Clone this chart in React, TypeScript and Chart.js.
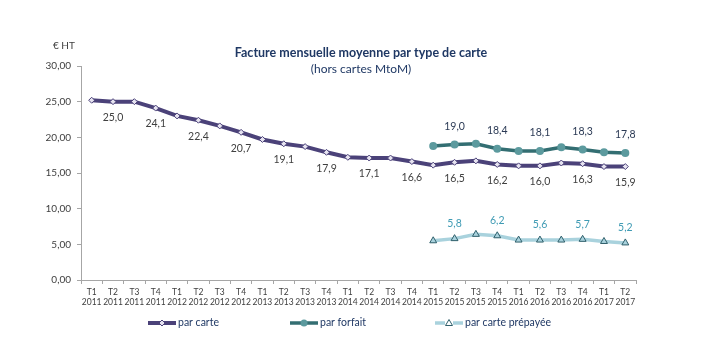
import React, { useEffect, useRef } from "react";
import { Chart, registerables } from "chart.js";

Chart.register(...registerables);

const quarters = ["T1", "T2", "T3", "T4", "T1", "T2", "T3", "T4", "T1", "T2", "T3", "T4", "T1", "T2", "T3", "T4", "T1", "T2", "T3", "T4", "T1", "T2", "T3", "T4", "T1", "T2"];
const years = ["2011", "2011", "2011", "2011", "2012", "2012", "2012", "2012", "2013", "2013", "2013", "2013", "2014", "2014", "2014", "2014", "2015", "2015", "2015", "2015", "2016", "2016", "2016", "2016", "2017", "2017"];

const parCarte = [25.2, 25.0, 25.0, 24.1, 23.0, 22.4, 21.6, 20.7, 19.7, 19.1, 18.7, 17.9, 17.2, 17.1, 17.1, 16.6, 16.1, 16.5, 16.7, 16.2, 16.0, 16.0, 16.4, 16.3, 15.9, 15.9];
const parForfait = [null, null, null, null, null, null, null, null, null, null, null, null, null, null, null, null, 18.8, 19.0, 19.1, 18.4, 18.1, 18.1, 18.6, 18.3, 17.9, 17.8];
const parPrepayee = [null, null, null, null, null, null, null, null, null, null, null, null, null, null, null, null, 5.5, 5.8, 6.4, 6.2, 5.6, 5.6, 5.6, 5.7, 5.4, 5.2];

const yTicks = [0, 5, 10, 15, 20, 25, 30];

const titleText = "Facture mensuelle moyenne par type de carte";
const subtitleText = "(hors cartes MtoM)";
const unitText = "€ HT";
const seriesNames = ["par carte", "par forfait", "par carte prépayée"];

const FONT = "Lato, 'Open Sans', sans-serif";

const fmt = (v: number) => v.toFixed(1).replace(".", ",");

const decorPlugin = {
  id: "decor",
  afterDatasetsDraw(chart: any) {
    const ctx = chart.ctx;
    ctx.save();
    // Data labels
    const labelCfg = [
      { ds: 0, dy: 16, color: "#404040" },
      { ds: 1, dy: -18, color: "#2B3A55" },
      { ds: 2, dy: -15, color: "#3F9BB4" },
    ];
    ctx.font = `10.5px ${FONT}`;
    ctx.textAlign = "center";
    ctx.textBaseline = "middle";
    labelCfg.forEach((c) => {
      const meta = chart.getDatasetMeta(c.ds);
      const data = chart.data.datasets[c.ds].data;
      meta.data.forEach((pt: any, i: number) => {
        const v = data[i];
        if (v == null || i % 2 !== 1) return;
        ctx.fillStyle = c.color;
        ctx.fillText(fmt(v), pt.x, pt.y + c.dy);
      });
    });

    // Title
    ctx.fillStyle = "#1F3864";
    ctx.font = `bold 12.5px ${FONT}`;
    ctx.fillText(titleText, 361, 53);
    ctx.font = `12px ${FONT}`;
    ctx.fillText(subtitleText, 361, 69);
    // Unit
    ctx.fillStyle = "#404040";
    ctx.font = `10px ${FONT}`;
    ctx.textAlign = "left";
    ctx.fillText(unitText, 53, 46);

    // Legend
    const items = [
      { x0: 148, color: "#4B4279", w: 4, marker: "diamond" },
      { x0: 290, color: "#336E72", w: 3.5, marker: "circle" },
      { x0: 435, color: "#A9D2DD", w: 3.5, marker: "triangle" },
    ];
    const ly = 323;
    items.forEach((it, k) => {
      ctx.strokeStyle = it.color;
      ctx.lineWidth = it.w;
      ctx.beginPath();
      ctx.moveTo(it.x0, ly);
      ctx.lineTo(it.x0 + 28, ly);
      ctx.stroke();
      const mx = it.x0 + 14;
      if (it.marker === "diamond") {
        ctx.fillStyle = "#E6E3F0";
        ctx.strokeStyle = "#4B4279";
        ctx.lineWidth = 1;
        ctx.beginPath();
        ctx.moveTo(mx, ly - 3);
        ctx.lineTo(mx + 3, ly);
        ctx.lineTo(mx, ly + 3);
        ctx.lineTo(mx - 3, ly);
        ctx.closePath();
        ctx.fill();
        ctx.stroke();
      } else if (it.marker === "circle") {
        ctx.fillStyle = "#5C9A9E";
        ctx.beginPath();
        ctx.arc(mx, ly, 3.5, 0, Math.PI * 2);
        ctx.fill();
      } else {
        ctx.fillStyle = "#FFFFFF";
        ctx.fillRect(mx - 4, ly - 4, 8, 8);
        ctx.strokeStyle = "#2F5F6B";
        ctx.lineWidth = 1;
        ctx.beginPath();
        ctx.moveTo(mx, ly - 3.5);
        ctx.lineTo(mx + 3.5, ly + 2.5);
        ctx.lineTo(mx - 3.5, ly + 2.5);
        ctx.closePath();
        ctx.stroke();
      }
      ctx.fillStyle = "#1F3864";
      ctx.font = `10.5px ${FONT}`;
      ctx.textAlign = "left";
      ctx.fillText(seriesNames[k], it.x0 + 30, ly);
    });
    ctx.restore();
  },
};

export default function App() {
  const ref = useRef<HTMLCanvasElement>(null);
  useEffect(() => {
    document.body.style.margin = "0";
    const labels = quarters.map((q, i) => [q, years[i]]);
    const chart = new Chart(ref.current!, {
      type: "line",
      data: {
        labels,
        datasets: [
          {
            label: seriesNames[0],
            data: parCarte,
            borderColor: "#4B4279",
            borderWidth: 4,
            pointStyle: "rectRot",
            pointRadius: 3,
            pointBackgroundColor: "#E6E3F0",
            pointBorderColor: "#4B4279",
            pointBorderWidth: 1,
            tension: 0,
          },
          {
            label: seriesNames[1],
            data: parForfait,
            borderColor: "#336E72",
            borderWidth: 3.5,
            pointStyle: "circle",
            pointRadius: 4,
            pointBackgroundColor: "#5C9A9E",
            pointBorderColor: "#5C9A9E",
            pointBorderWidth: 0,
            tension: 0,
          },
          {
            label: seriesNames[2],
            data: parPrepayee,
            borderColor: "#A9D2DD",
            borderWidth: 3.5,
            pointStyle: "triangle",
            pointRadius: 4,
            pointBackgroundColor: "#A9D2DD",
            pointBorderColor: "#2F5F6B",
            pointBorderWidth: 1,
            tension: 0,
          },
        ],
      },
      options: {
        animation: false,
        responsive: false,
        devicePixelRatio: 1,
        layout: { padding: { top: 66, left: 0, right: 82, bottom: 46 } },
        plugins: {
          legend: { display: false },
          tooltip: { enabled: false },
          title: { display: false },
        },
        scales: {
          x: {
            offset: true,
            grid: {
              display: true,
              drawOnChartArea: false,
              drawTicks: true,
              tickLength: 4,
              offset: true,
              color: "#A6A6A6",
            },
            border: { display: true, color: "#A6A6A6", width: 1 },
            ticks: {
              autoSkip: false,
              maxRotation: 0,
              minRotation: 0,
              color: "#404040",
              font: { family: FONT, size: 8.5 },
              padding: 3,
            },
            afterFit: (s: any) => {
              s.height = 30;
            },
          },
          y: {
            min: 0,
            max: 30,
            afterBuildTicks: (s: any) => {
              s.ticks = yTicks.map((v) => ({ value: v }));
            },
            grid: {
              display: true,
              drawOnChartArea: false,
              drawTicks: true,
              tickLength: 4,
              color: "#A6A6A6",
            },
            border: { display: true, color: "#A6A6A6", width: 1 },
            ticks: {
              color: "#404040",
              font: { family: FONT, size: 10 },
              padding: 6,
              callback: (v: any) => Number(v).toFixed(2).replace(".", ","),
            },
            afterFit: (s: any) => {
              s.width = 81;
            },
          },
        },
      },
      plugins: [decorPlugin],
    });
    return () => chart.destroy();
  }, []);
  return <canvas ref={ref} width={718} height={356} style={{ display: "block" }} />;
}
